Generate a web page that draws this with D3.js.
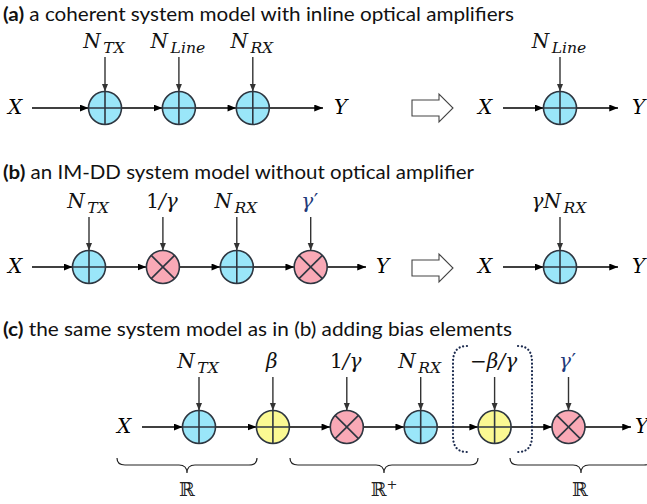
<!DOCTYPE html>
<html><head><meta charset="utf-8">
<script src="https://cdn.jsdelivr.net/npm/d3@7"></script>
<style>body{margin:0;background:#fff}</style></head>
<body>
<svg id="c" width="647" height="504"></svg>
<script>
// ---- data ----
const titles = [
  ["(a)", " a coherent system model with inline optical amplifiers"],
  ["(b)", " an IM-DD system model without optical amplifier"],
  ["(c)", " the same system model as in (b) adding bias elements"]
];
// operator types: add (blue), mul (pink), bias (yellow)
const opsA = ["add", "add", "add"];
const labelsA = [[["N","i"],["TX","s"]], [["N","i"],["Line","s"]], [["N","i"],["RX","s"]]];
const opsA2 = ["add"];
const labelsA2 = [[["N","i"],["Line","s"]]];
const opsB = ["add", "mul", "add", "mul"];
const labelsB = [[["N","i"],["TX","s"]], [["1","r"],["/γ","i"]], [["N","i"],["RX","s"]], [["γ","n"],["′","p"]]];
const opsB2 = ["add"];
const labelsB2 = [[["γN","i"],["RX","s"]]];
const opsC = ["add", "bias", "mul", "add", "bias", "mul"];
const labelsC = [[["N","i"],["TX","s"]], [["β","i"]], [["1","r"],["/γ","i"]], [["N","i"],["RX","s"]], [["−","r"],["β/γ","i"]], [["γ","n"],["′","p"]]];
const braceLabels = [["ℝ",""], ["ℝ","+"], ["ℝ",""]];

// ---- drawing ----
const svg = d3.select("#c");
const fill = {add: "#9ae6f9", mul: "#f9a9b6", bias: "#fbf993"};
const R = 16.5;
const defs = svg.append("defs");
defs.append("marker").attr("id","ah").attr("viewBox","0 0 10 8")
  .attr("markerWidth",9).attr("markerHeight",7).attr("refX",10).attr("refY",4)
  .attr("orient","auto").attr("markerUnits","userSpaceOnUse")
  .append("path").attr("d","M0,0L10,4L0,8z").attr("fill","#000");
defs.append("marker").attr("id","ahg").attr("viewBox","0 0 10 8")
  .attr("markerWidth",8).attr("markerHeight",7).attr("refX",10).attr("refY",4)
  .attr("orient","auto").attr("markerUnits","userSpaceOnUse")
  .append("path").attr("d","M0,0L10,4L0,8z").attr("fill","#333");

const mathFont = "'DejaVu Serif', serif";

// titles
const titleY = [21, 179, 336];
const titleW = [511, 471, 509];
titles.forEach((t, i) => {
  const tx = svg.append("text").attr("x", 3).attr("y", titleY[i])
    .attr("font-family", "Lato, 'Open Sans', sans-serif").attr("font-size", 19).attr("fill", "#111")
    .attr("textLength", titleW[i]).attr("lengthAdjust", "spacingAndGlyphs");
  tx.append("tspan").attr("font-weight", "bold").text(t[0]);
  tx.append("tspan").text(t[1]);
});

function mathLabel(g, x, y, segs, size = 20) {
  const t = g.append("text").attr("x", x).attr("y", y).attr("text-anchor", "middle")
    .attr("font-family", mathFont).attr("font-size", size).attr("fill", "#111");
  let shifted = false;
  segs.forEach(([s, st]) => {
    const sp = t.append("tspan").text(s);
    if (st === "i") sp.attr("font-style", "italic");
    if (st === "n") sp.attr("font-style", "italic").attr("fill", "#1f3a7a");
    if (st === "p") sp.attr("fill", "#1f3a7a").attr("dx", 0.5);
    if (st === "s") { sp.attr("font-style", "italic").attr("font-size", size * 0.78).attr("dy", 5).attr("dx", 2.5); shifted = true; }
    else if (shifted) { sp.attr("dy", -5); shifted = false; }
  });
  return t;
}

function drawRow(ops, labels, x0, cy, labelY, xIn, xOut, yOutX, xLabelX) {
  const x = d3.scaleLinear().domain([0, 1]).range([x0, x0 + 73.9]);
  const g = svg.append("g");
  g.append("text").attr("x", xLabelX).attr("y", cy + 6).attr("text-anchor", "middle")
    .attr("font-family", mathFont).attr("font-style", "italic").attr("font-size", 20).text("X");
  g.append("text").attr("x", yOutX).attr("y", cy + 6).attr("text-anchor", "start")
    .attr("font-family", mathFont).attr("font-style", "italic").attr("font-size", 20).text("Y");
  ops.forEach((d, i) => {
    const from = i === 0 ? xIn : x(i - 1) + R;
    g.append("line").attr("x1", from).attr("x2", x(i) - R).attr("y1", cy).attr("y2", cy)
      .attr("stroke", "#000").attr("stroke-width", 1.4).attr("marker-end", "url(#ah)");
  });
  g.append("line").attr("x1", x(ops.length - 1) + R).attr("x2", xOut).attr("y1", cy).attr("y2", cy)
    .attr("stroke", "#000").attr("stroke-width", 1.4).attr("marker-end", "url(#ah)");
  ops.forEach((op, i) => {
    const cx = x(i);
    g.append("line").attr("x1", cx).attr("x2", cx).attr("y1", labelY + 9).attr("y2", cy - R)
      .attr("stroke", "#333").attr("stroke-width", 1.4).attr("marker-end", "url(#ahg)");
    g.append("circle").attr("cx", cx).attr("cy", cy).attr("r", R)
      .attr("fill", fill[op]).attr("stroke", "#2e3640").attr("stroke-width", 1.6);
    const k = op === "mul" ? R * Math.SQRT1_2 : R;
    const segs = op === "mul"
      ? [[-k, -k, k, k], [-k, k, k, -k]]
      : [[0, -k, 0, k], [-k, 0, k, 0]];
    segs.forEach(s => g.append("line").attr("x1", cx + s[0]).attr("y1", cy + s[1])
      .attr("x2", cx + s[2]).attr("y2", cy + s[3]).attr("stroke", "#2e3640").attr("stroke-width", 1.6));
    mathLabel(g, cx - 1, labelY, labels[i]);
  });
  return x;
}

function hollowArrow(x1, x2, cy) {
  svg.append("path")
    .attr("d", `M${x1},${cy - 8}L${x2 - 14},${cy - 8}L${x2 - 14},${cy - 14}L${x2},${cy}L${x2 - 14},${cy + 14}L${x2 - 14},${cy + 8}L${x1},${cy + 8}Z`)
    .attr("fill", "#fff").attr("stroke", "#444").attr("stroke-width", 1.1);
}

// row (a)
drawRow(opsA, labelsA, 105, 108, 48, 32, 323, 334, 15);
hollowArrow(412, 453, 108);
drawRow(opsA2, labelsA2, 560, 108, 48, 503, 618, 632, 485);
// row (b)
drawRow(opsB, labelsB, 89, 267, 208, 32, 366, 376, 15);
hollowArrow(412, 453, 268);
drawRow(opsB2, labelsB2, 560, 267, 208, 503, 618, 632, 485);
// row (c)
drawRow(opsC, labelsC, 199, 427, 368, 142, 631, 635, 124);

// dotted bracket around bias element
svg.append("path").attr("d", "M467,346 Q453,346 453,362 L453,436 Q453,452 467,452")
  .attr("fill", "none").attr("stroke", "#1b2a4e").attr("stroke-width", 2.2)
  .attr("stroke-dasharray", "0.1 3.6").attr("stroke-linecap", "round");
svg.append("path").attr("d", "M518,346 Q532,346 532,362 L532,436 Q532,452 518,452")
  .attr("fill", "none").attr("stroke", "#1b2a4e").attr("stroke-width", 2.2)
  .attr("stroke-dasharray", "0.1 3.6").attr("stroke-linecap", "round");

// braces
const braceSpans = [[117, 257], [290, 478], [510, 652]];
function brace(x1, x2, y) {
  const m = (x1 + x2) / 2;
  return `M${x1},${y - 7} Q${x1},${y} ${x1 + 8},${y} L${m - 8},${y} Q${m},${y} ${m},${y + 8} Q${m},${y} ${m + 8},${y} L${x2 - 8},${y} Q${x2},${y} ${x2},${y - 7}`;
}
braceSpans.forEach((s, i) => {
  svg.append("path").attr("d", brace(s[0], s[1], 465)).attr("fill", "none")
    .attr("stroke", "#222").attr("stroke-width", 1.2);
  const m = i === 2 ? 580 : (s[0] + s[1]) / 2;
  const t = svg.append("text").attr("x", m).attr("y", 496).attr("text-anchor", "middle")
    .attr("font-family", "'DejaVu Serif', serif").attr("font-size", 19).attr("fill", "#222");
  t.append("tspan").text(braceLabels[i][0]);
  if (braceLabels[i][1]) t.append("tspan").attr("dy", -7).attr("font-size", 13).text(braceLabels[i][1]);
});
</script>
</body></html>
